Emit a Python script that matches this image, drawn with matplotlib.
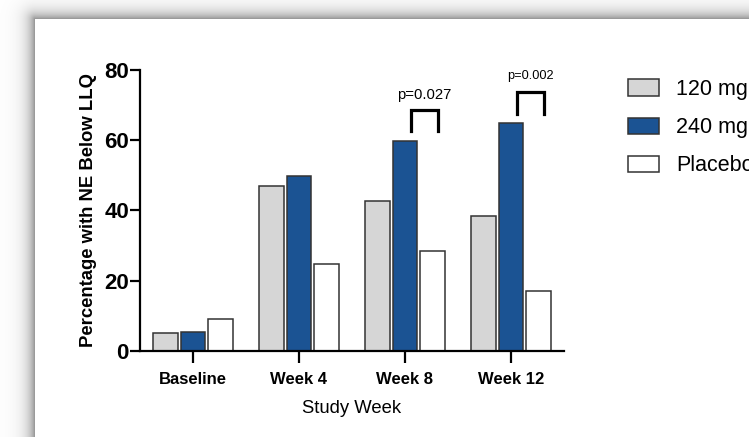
import numpy as np
import matplotlib
matplotlib.use("Agg")
import matplotlib.pyplot as plt
from matplotlib.patches import Patch

plt.rcParams['font.family'] = ['Liberation Sans', 'DejaVu Sans']

# ---- data ----
categories = ["Baseline", "Week 4", "Week 8", "Week 12"]
series_names = ["120 mg", "240 mg", "Placebo"]
vals_120 = [5.2, 46.9, 42.7, 38.4]
vals_240 = [5.5, 49.8, 59.9, 65.0]
vals_placebo = [9.2, 24.8, 28.4, 17.0]
y_ticks = [0, 20, 40, 60, 80]
bracket_groups = [2, 3]
p_labels = ["p=0.027", "p=0.002"]
bracket_bottom = [62.5, 67.5]
bracket_top = [68.6, 73.7]
p_text_y = [72.8, 78.3]
p_fontsizes = [10.7, 9.2]

colors = ["#d6d6d6", "#1b5393", "#ffffff"]
edge = "#333333"

W, H = 749, 437
fig = plt.figure(figsize=(W / 100, H / 100), dpi=100)

# ---- screenshot frame shadow (decoration) ----
bg = fig.add_axes([0, 0, 1, 1], zorder=0)
px = np.arange(W)[None, :] + 0.5
py = np.arange(H)[:, None] + 0.5
left_edge, top_edge = 35, 19
dx = np.clip(left_edge - px, 0, None)
dy = np.clip(top_edge - py, 0, None)
d = np.sqrt(dx ** 2 + dy ** 2)
inside = (px >= left_edge) & (py >= top_edge)
shade = 1 - 0.42 * np.exp(-d / 7.5)
shade = np.where(inside, 1.0, shade)
img = np.dstack([shade, shade, shade])
bg.imshow(img, extent=(0, W, H, 0), aspect='auto', interpolation='bilinear')
bg.set_xlim(0, W)
bg.set_ylim(H, 0)
bg.axis('off')

# ---- chart ----
ax = fig.add_axes([140 / W, 1 - 351 / H, 424 / W, 281 / H], zorder=2)
ax.patch.set_alpha(0)
x = np.arange(len(categories))
bw = 0.228
pitch = 0.259
for i, (vals, c, name) in enumerate(zip([vals_120, vals_240, vals_placebo], colors, series_names)):
    ax.bar(x + (i - 1) * pitch, vals, width=bw, color=c, edgecolor=edge,
           linewidth=1.1, label=name, zorder=3)

ax.set_xlim(-0.5, 3.5)
ax.set_ylim(0, 80)
ax.set_yticks(y_ticks)
ax.set_xticks(x)
ax.set_xticklabels(categories, fontsize=12, fontweight='bold')
ax.set_yticklabels([str(t) for t in y_ticks], fontsize=16, fontweight='bold')
for s in ['top', 'right']:
    ax.spines[s].set_visible(False)
for s in ['left', 'bottom']:
    ax.spines[s].set_linewidth(1.6)
    ax.spines[s].set_color('black')
ax.spines['bottom'].set_zorder(5)
ax.tick_params(axis='y', length=7, width=1.6, pad=1, direction='out')
ax.tick_params(axis='x', length=8.6, width=1.6, pad=6.5, direction='out')
ax.set_ylabel("Percentage with NE Below LLQ", fontsize=13.3, fontweight='bold', labelpad=5)
ax.set_xlabel("Study Week", fontsize=13.3, labelpad=9.5)

for g, lab, yb, yt, ty, fs in zip(bracket_groups, p_labels, bracket_bottom, bracket_top, p_text_y, p_fontsizes):
    x0, x1 = g + 0.055, g + 0.31
    ax.plot([x0, x0, x1, x1], [yb, yt, yt, yb], color='black', lw=2.3,
            solid_joinstyle='miter', clip_on=False, zorder=4)
    ax.text((x0 + x1) / 2, ty, lab, ha='center', va='center', fontsize=fs, clip_on=False)

handles = [Patch(facecolor=c, edgecolor=edge, linewidth=1.1) for c in colors]
fig.legend(handles, series_names, loc='upper left', bbox_to_anchor=(628 / W, 1 - 79 / H),
           frameon=False, fontsize=15.5, handlelength=1.44, handleheight=0.79,
           handletextpad=0.79, labelspacing=0.8, borderpad=0, borderaxespad=0)

fig.savefig("out.png", dpi=100)
